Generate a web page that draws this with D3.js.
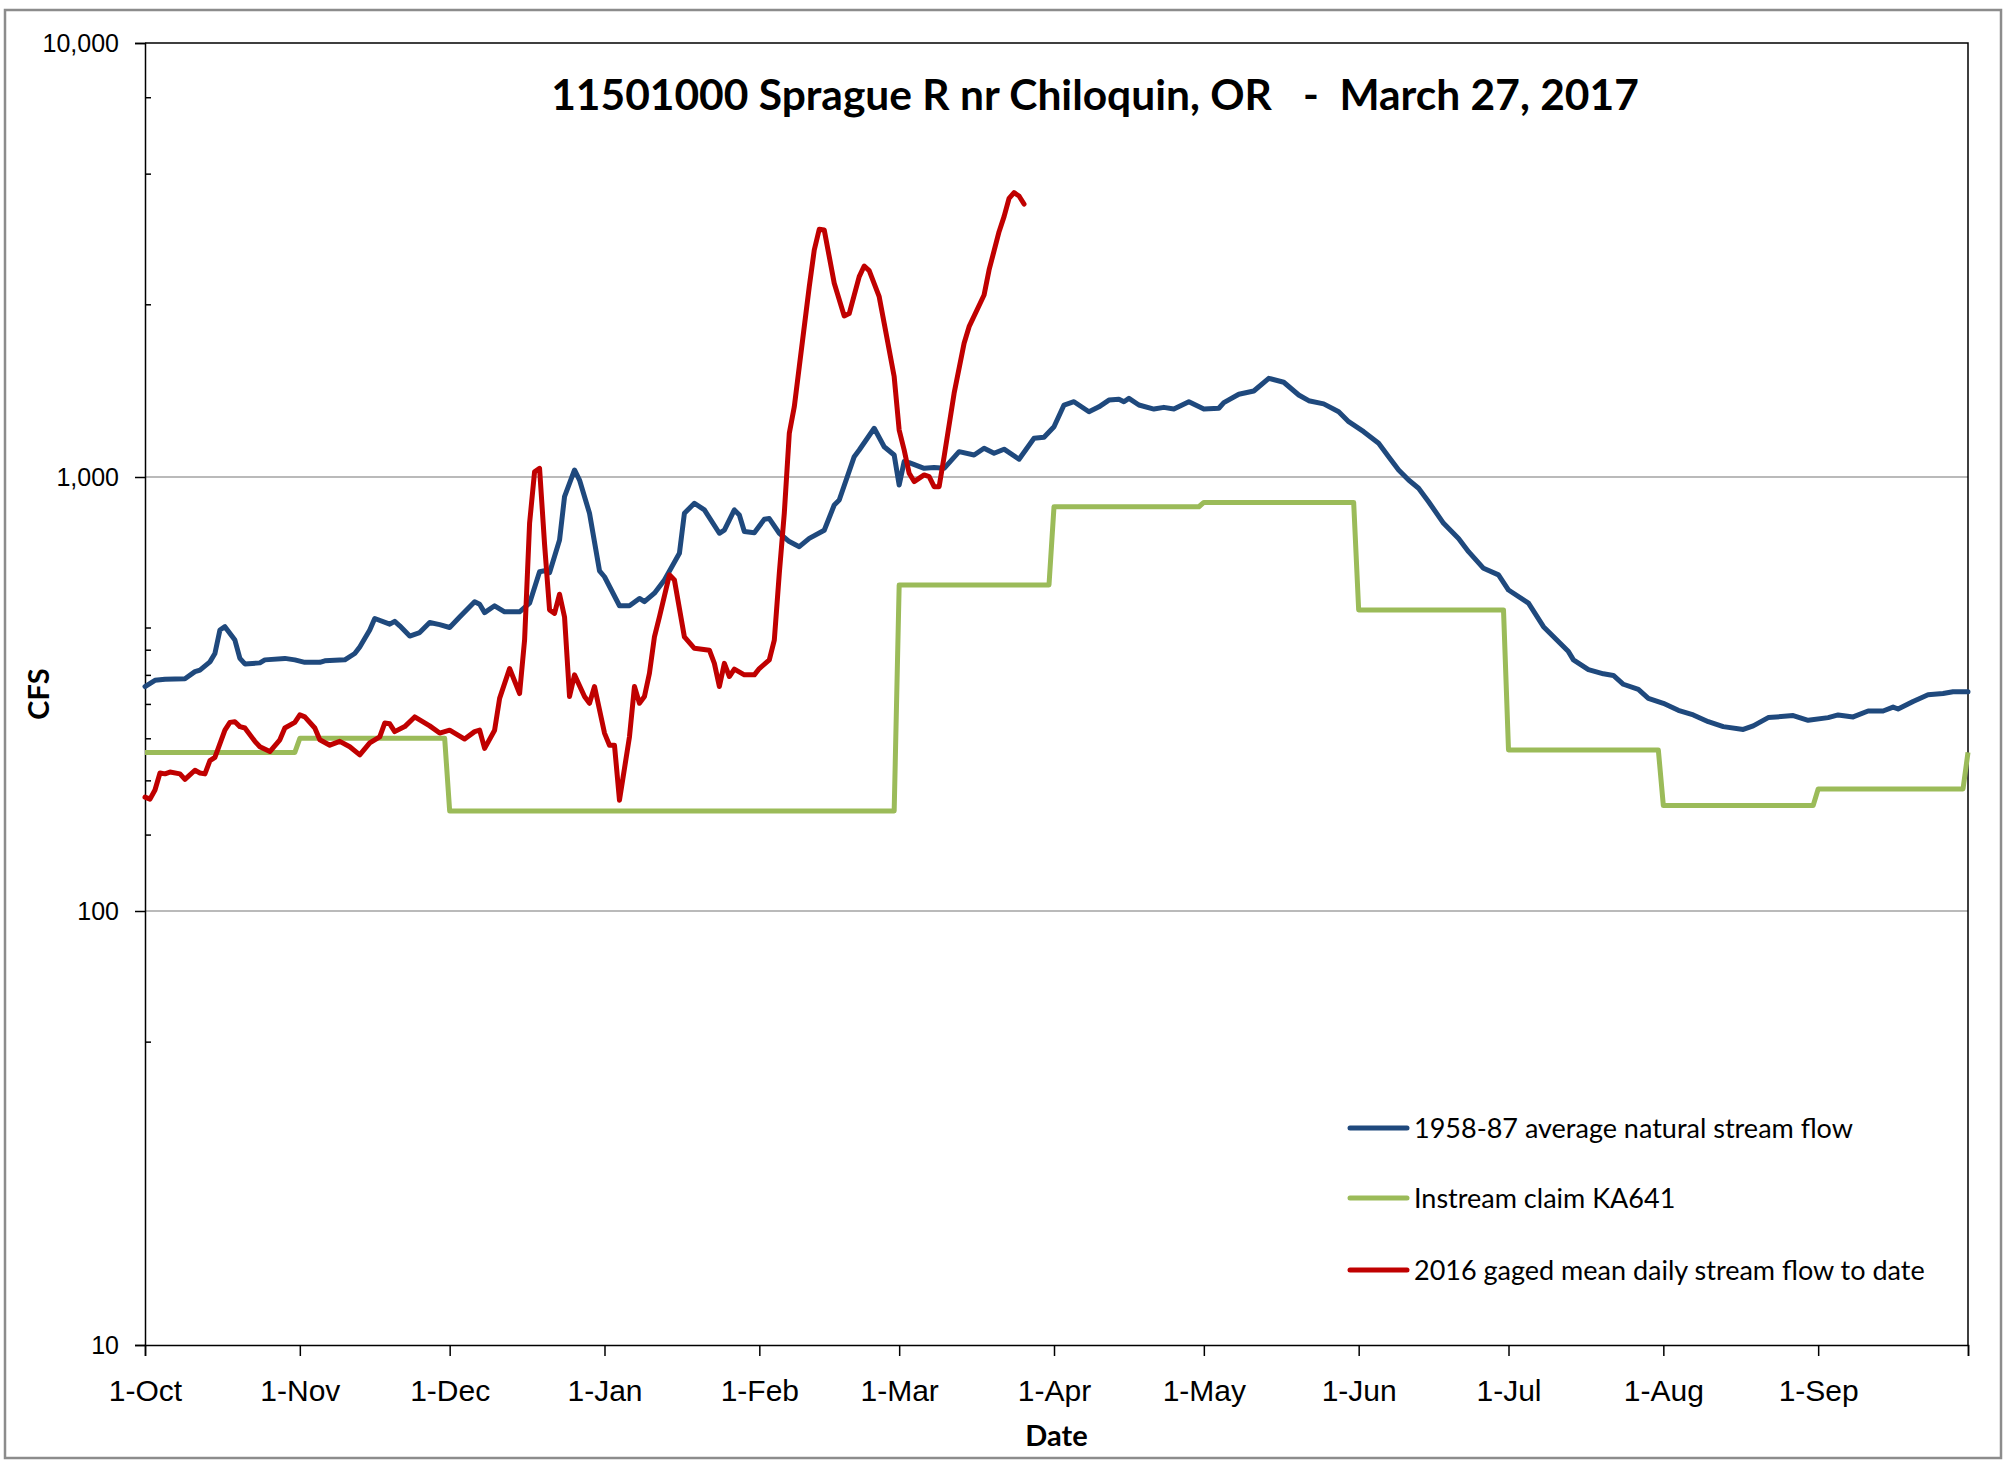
<!DOCTYPE html>
<html lang="en">
<head>
  <meta charset="UTF-8">
  <title>11501000 Sprague R nr Chiloquin, OR</title>
  <script src="https://d3js.org/d3.v7.min.js"></script>
  <style>
    body { margin: 0; background: #fff; }
    svg { font-family: Lato, "Open Sans", sans-serif; }
    .axis path, .axis line { stroke: #000; stroke-width: 1.5px; }
    .axis text { fill: #000; }
    .grid line { stroke: #a3a3a3; stroke-width: 1.5px; }
    .series { fill: none; stroke-width: 5px; stroke-linejoin: round; stroke-linecap: round; }
  </style>
</head>
<body>
<script>
  // water-year day (0 = 1-Oct-2016) and flow in cfs
  const avgNaturalFlow = [
    [0,329],[2,340],[4,342],[8,343],[10,356],[11,359],[13,375],[14,392],[15,444],[16,452],
    [18,421],[19,382],[20,371],[23,373],[24,379],[28,382],[30,379],[32,374],[35,374],[36,377],
    [40,379],[42,392],[43,406],[45,444],[46,472],[49,458],[50,465],[51,454],[53,430],[55,438],
    [57,462],[59,457],[61,450],[63,476],[66,516],[67,509],[68,487],[70,505],[72,489],[75,489],
    [77,512],[79,605],[80,608],[81,602],[83,716],[84,901],[86,1038],[87,984],[89,825],[91,608],
    [92,589],[95,505],[97,505],[99,525],[100,516],[102,540],[104,579],[107,667],[108,825],[110,870],
    [112,840],[115,742],[116,754],[118,840],[119,817],[120,749],[122,744],[124,799],[125,802],[127,742],
    [129,710],[131,691],[133,722],[136,754],[138,862],[139,885],[142,1114],[143,1154],[146,1295],[148,1174],
    [150,1124],[151,958],[152,1085],[153,1079],[156,1047],[158,1052],[160,1047],[163,1144],[166,1124],[168,1165],
    [170,1134],[172,1159],[175,1099],[178,1228],[180,1235],[182,1306],[184,1465],[186,1491],[189,1414],[191,1451],
    [193,1504],[195,1511],[196,1491],[197,1518],[199,1465],[202,1434],[204,1447],[206,1434],[209,1491],[212,1434],
    [215,1440],[216,1484],[219,1551],[222,1578],[225,1688],[228,1653],[231,1545],[233,1499],[236,1474],[239,1414],
    [241,1341],[244,1272],[247,1196],[249,1114],[251,1038],[253,984],[255,942],[257,877],[260,782],[263,722],
    [265,673],[268,616],[271,595],[273,549],[277,512],[280,452],[285,396],[286,379],[289,360],[292,352],
    [294,349],[296,333],[299,324],[301,309],[304,301],[307,290],[310,283],[313,273],[316,266],[320,262],
    [322,267],[325,279],[330,282],[333,275],[337,279],[339,283],[342,280],[345,289],[348,289],[350,295],
    [351,292],[354,304],[357,315],[360,317],[362,320],[365,320]
  ];

  const gagedFlow2016 = [
    [0,183],[1,181],[2,190],[3,208],[4,207],[5,209],[7,207],[8,201],[10,211],[11,208],
    [12,207],[13,222],[14,226],[16,261],[17,272],[18,273],[19,266],[20,264],[22,246],[23,239],
    [25,233],[27,248],[28,264],[30,272],[31,283],[32,280],[34,264],[35,248],[37,241],[39,246],
    [41,239],[43,229],[45,244],[47,252],[48,271],[49,270],[50,259],[52,266],[54,280],[57,267],
    [59,257],[61,261],[64,249],[66,259],[67,261],[68,237],[70,261],[71,309],[73,362],[75,317],
    [76,421],[77,782],[78,1028],[79,1047],[80,700],[81,494],[82,485],[83,537],[84,476],[85,312],
    [86,350],[88,312],[89,301],[90,329],[92,257],[93,241],[94,241],[95,180],[97,252],[98,329],
    [99,301],[100,312],[101,353],[102,428],[103,476],[105,595],[106,579],[108,428],[110,403],[113,399],
    [114,372],[115,329],[116,372],[117,347],[118,361],[120,350],[122,350],[123,362],[125,379],[126,421],
    [127,600],[128,825],[129,1261],[130,1451],[131,1796],[133,2745],[134,3334],[135,3722],[136,3708],[138,2795],
    [140,2350],[141,2380],[143,2895],[144,3063],[145,2988],[147,2603],[148,2261],[150,1703],[151,1283],[152,1154],
    [153,1020],[154,976],[156,1011],[157,1002],[158,950],[159,950],[160,1114],[162,1559],[164,2033],[165,2220],
    [168,2627],[169,2999],[171,3675],[172,3980],[173,4386],[174,4519],[175,4441],[176,4256]
  ];

  // instream claim KA641: first day of each claim period and its rate
  const claimStarts = ["2016-10-01","2016-11-01","2016-12-01","2017-03-01","2017-04-01","2017-05-01",
                       "2017-06-01","2017-07-01","2017-08-01","2017-09-01","2017-10-01"];
  const claimCfs = [232, 250, 170, 564, 854, 874, 494, 235, 175, 191, 232];

  const monthTicks = ["2016-10-01","2016-11-01","2016-12-01","2017-01-01","2017-02-01","2017-03-01",
                      "2017-04-01","2017-05-01","2017-06-01","2017-07-01","2017-08-01","2017-09-01","2017-10-01"];
  const cfsTicks = [10, 100, 1000, 10000];
  const cfsMinorTicks = [50, 150, 200, 250, 300, 350, 400, 450, 2500, 5000, 7500];

  const seriesNames = ["1958-87 average natural stream flow", "Instream claim KA641", "2016 gaged mean daily stream flow to date"];
  const seriesColors = ["#1f497d", "#9bbb59", "#c00000"];

  const W = 2007, H = 1461;
  const plotL = 145, plotR = 1968, plotT = 43, plotB = 1345;

  const parse = d3.utcParse("%Y-%m-%d");
  const wyStart = parse("2016-10-01");
  const dayDate = d => d3.utcDay.offset(wyStart, d);

  const svg = d3.select("body").append("svg")
    .attr("width", W).attr("height", H);

  // chart area border
  svg.append("rect")
    .attr("x", 5).attr("y", 10).attr("width", 1996).attr("height", 1448)
    .attr("fill", "#fff").attr("stroke", "#8c8c8c").attr("stroke-width", 2.5);

  const x = d3.scaleUtc().domain([wyStart, parse("2017-10-01")]).range([plotL, plotR]);
  const y = d3.scaleLog().domain([10, 10000]).range([plotB, plotT]);

  // gridlines
  svg.append("g").attr("class", "grid")
    .selectAll("line").data([100, 1000]).join("line")
    .attr("x1", plotL).attr("x2", plotR)
    .attr("y1", d => y(d)).attr("y2", d => y(d));

  // plot area outline (top and right)
  svg.append("path")
    .attr("d", `M${plotL},${plotT}H${plotR}V${plotB}`)
    .attr("fill", "none").attr("stroke", "#000").attr("stroke-width", 1.5);

  // y axis
  const yAxis = svg.append("g").attr("class", "axis")
    .attr("transform", `translate(${plotL},0)`)
    .call(d3.axisLeft(y).tickValues(cfsTicks).tickFormat(d3.format(",")).tickSize(10).tickPadding(16));
  yAxis.selectAll("text").style("font-size", "25px");

  svg.append("g").attr("class", "axis")
    .attr("transform", `translate(${plotL},0)`)
    .call(d3.axisRight(y).tickValues(cfsMinorTicks).tickFormat("").tickSize(6))
    .select(".domain").remove();

  // x axis
  const fmt = d3.utcFormat("%-d-%b");
  const xAxis = svg.append("g").attr("class", "axis")
    .attr("transform", `translate(0,${plotB})`)
    .call(d3.axisBottom(x).tickValues(monthTicks.map(parse))
      .tickFormat((d, i) => i === monthTicks.length - 1 ? "" : fmt(d))
      .tickSize(11).tickPadding(24));
  xAxis.selectAll("text").style("font-size", "30px");

  // axis titles
  svg.append("text")
    .attr("x", (plotL + plotR) / 2).attr("y", 1446)
    .attr("text-anchor", "middle")
    .style("font-size", "29px").style("font-weight", "bold")
    .text("Date");

  svg.append("text")
    .attr("transform", `translate(49,${(plotT + plotB) / 2}) rotate(-90)`)
    .attr("text-anchor", "middle")
    .style("font-size", "29px").style("font-weight", "bold")
    .text("CFS");

  // title
  svg.append("text")
    .attr("x", 1095).attr("y", 110)
    .attr("text-anchor", "middle")
    .style("font-size", "42.5px").style("font-weight", "bold")
    .style("white-space", "pre")
    .text("11501000 Sprague R nr Chiloquin, OR   -  March 27, 2017");

  const line = d3.line()
    .x(d => x(dayDate(d[0])))
    .y(d => y(d[1]));

  // claim as daily steps: constant inside each period
  const claimPoints = [];
  claimStarts.forEach((s, i) => {
    const start = parse(s);
    claimPoints.push([d3.utcDay.count(wyStart, start), claimCfs[i]]);
    if (i < claimStarts.length - 1) {
      const end = d3.utcDay.offset(parse(claimStarts[i + 1]), -1);
      claimPoints.push([d3.utcDay.count(wyStart, end), claimCfs[i]]);
    }
  });

  svg.append("path").attr("class", "series")
    .attr("stroke", seriesColors[0]).attr("d", line(avgNaturalFlow));
  svg.append("path").attr("class", "series")
    .attr("stroke", seriesColors[1]).style("stroke-linecap", "butt").attr("d", line(claimPoints));
  svg.append("path").attr("class", "series")
    .attr("stroke", seriesColors[2]).attr("d", line(gagedFlow2016));

  // legend
  const legendY = [1128, 1198, 1270];
  const legend = svg.append("g");
  seriesNames.forEach((name, i) => {
    legend.append("line")
      .attr("x1", 1350).attr("x2", 1407)
      .attr("y1", legendY[i]).attr("y2", legendY[i])
      .attr("stroke", seriesColors[i]).attr("stroke-width", 5).attr("stroke-linecap", "round");
    legend.append("text")
      .attr("x", 1414).attr("y", legendY[i]).attr("dy", "0.36em")
      .style("font-size", "27px")
      .text(name);
  });
</script>
</body>
</html>
